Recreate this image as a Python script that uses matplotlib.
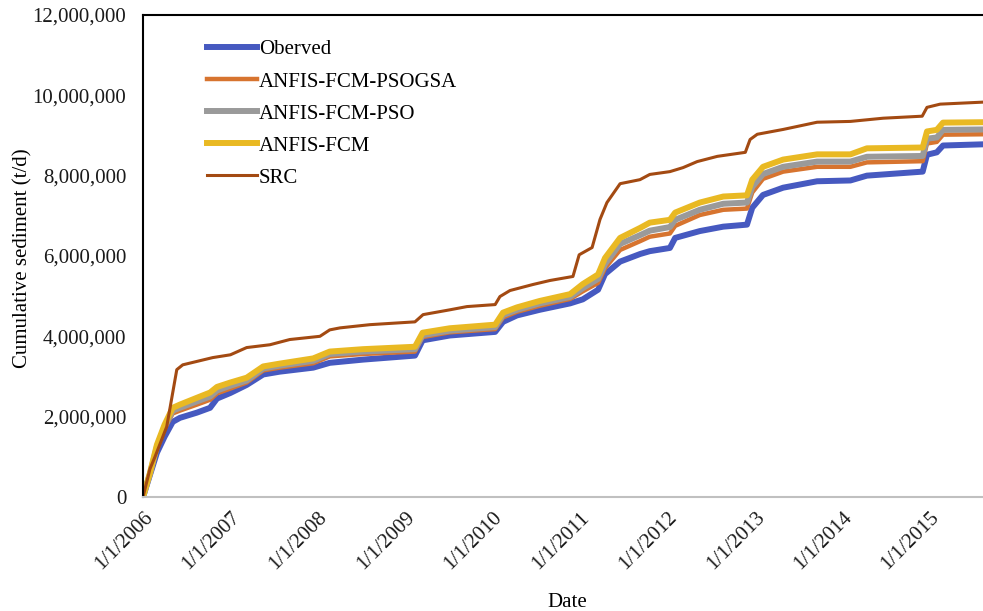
import pandas as pd
import matplotlib
matplotlib.use("Agg")
import matplotlib.pyplot as plt
import matplotlib.dates as mdates
from matplotlib.ticker import FuncFormatter

# dates shared by the four model-type series
model_dates = pd.to_datetime([
    "2006-01-01", "2006-01-30", "2006-02-28", "2006-04-01", "2006-05-05", "2006-06-04",
    "2006-08-14", "2006-10-08", "2006-11-06", "2007-01-01", "2007-03-10", "2007-05-18",
    "2007-07-26", "2007-12-13", "2008-02-20", "2008-07-08", "2009-02-10", "2009-03-14",
    "2009-07-05", "2010-01-11", "2010-02-13", "2010-04-12", "2010-07-16", "2010-11-20",
    "2011-01-12", "2011-03-17", "2011-04-15", "2011-06-17", "2011-09-09", "2011-10-19",
    "2012-01-11", "2012-02-02", "2012-05-15", "2012-08-21", "2012-11-28", "2012-12-20",
    "2013-02-03", "2013-04-28", "2013-09-17", "2014-02-03", "2014-04-13", "2014-12-02",
    "2014-12-20", "2015-01-30", "2015-02-25", "2015-08-11",
])

# values in million t/d
observed = [0, 0.55, 1.1, 1.5, 1.87, 1.97, 2.1, 2.22, 2.45, 2.59, 2.79, 3.05,
            3.12, 3.22, 3.34, 3.42, 3.52, 3.9, 4.02, 4.11, 4.36, 4.52, 4.66, 4.82,
            4.92, 5.16, 5.55, 5.86, 6.05, 6.12, 6.2, 6.45, 6.62, 6.73, 6.78, 7.2,
            7.52, 7.7, 7.86, 7.88, 8.0, 8.1, 8.52, 8.58, 8.75, 8.78]
psogsa = [0, 0.56, 1.2, 1.7, 2.08, 2.15, 2.3, 2.42, 2.58, 2.7, 2.85, 3.15,
          3.22, 3.33, 3.5, 3.56, 3.62, 3.98, 4.1, 4.18, 4.47, 4.61, 4.76, 4.93,
          5.12, 5.33, 5.7, 6.15, 6.37, 6.48, 6.56, 6.75, 7.02, 7.15, 7.18, 7.58,
          7.92, 8.1, 8.22, 8.22, 8.33, 8.36, 8.8, 8.84, 9.02, 9.03]
pso = [0, 0.58, 1.25, 1.75, 2.15, 2.22, 2.38, 2.5, 2.65, 2.77, 2.9, 3.2,
       3.27, 3.39, 3.56, 3.62, 3.68, 4.03, 4.14, 4.23, 4.53, 4.66, 4.82, 4.98,
       5.2, 5.43, 5.8, 6.3, 6.52, 6.63, 6.72, 6.9, 7.15, 7.3, 7.33, 7.72,
       8.04, 8.22, 8.35, 8.35, 8.47, 8.49, 8.92, 8.95, 9.14, 9.15]
fcm = [0, 0.6, 1.3, 1.8, 2.22, 2.3, 2.47, 2.6, 2.74, 2.85, 2.97, 3.25,
       3.32, 3.45, 3.62, 3.68, 3.74, 4.09, 4.2, 4.29, 4.59, 4.72, 4.88, 5.05,
       5.3, 5.54, 5.95, 6.45, 6.7, 6.83, 6.9, 7.08, 7.33, 7.48, 7.51, 7.9,
       8.22, 8.4, 8.53, 8.53, 8.68, 8.7, 9.1, 9.14, 9.32, 9.33]

src_dates = pd.to_datetime([
    "2006-01-01", "2006-01-30", "2006-02-20", "2006-04-10", "2006-05-22", "2006-06-16",
    "2006-10-19", "2007-01-01", "2007-03-10", "2007-06-15", "2007-09-06", "2008-01-10",
    "2008-02-20", "2008-04-03", "2008-08-06", "2009-02-10", "2009-03-16", "2009-07-06",
    "2009-09-15", "2010-01-11", "2010-01-31", "2010-03-14", "2010-06-18", "2010-08-28",
    "2010-12-02", "2010-12-28", "2011-02-20", "2011-03-25", "2011-04-23", "2011-06-17",
    "2011-09-08", "2011-10-19", "2012-01-11", "2012-03-06", "2012-05-04", "2012-07-27",
    "2012-11-21", "2012-12-11", "2013-01-10", "2013-04-28", "2013-09-17", "2014-02-03",
    "2014-06-20", "2014-11-30", "2014-12-20", "2015-02-13", "2015-08-11",
])
src = [0, 0.7, 1.0, 1.75, 3.17, 3.29, 3.47, 3.54, 3.72, 3.79, 3.92, 4.0,
       4.16, 4.21, 4.29, 4.36, 4.54, 4.66, 4.74, 4.79, 4.99, 5.14, 5.29, 5.39,
       5.49, 6.03, 6.21, 6.91, 7.33, 7.8, 7.9, 8.03, 8.1, 8.2, 8.35, 8.48,
       8.58, 8.9, 9.03, 9.15, 9.33, 9.35, 9.43, 9.48, 9.7, 9.78, 9.83]

plt.rcParams['font.family'] = ['Liberation Serif', 'DejaVu Serif']

fig = plt.figure(figsize=(9.83, 6.11), dpi=100)
ax = fig.add_axes([0.1455, 0.1866, 0.8545, 0.7889])

M = 1e6
ax.plot(model_dates, [v * M for v in observed], color='#4659c0', lw=4.3, label='Oberved')
ax.plot(model_dates, [v * M for v in psogsa], color='#d7742f', lw=3.2, label='ANFIS-FCM-PSOGSA')
ax.plot(model_dates, [v * M for v in pso], color='#9a9a9a', lw=4.3, label='ANFIS-FCM-PSO')
ax.plot(model_dates, [v * M for v in fcm], color='#e9b923', lw=4.3, label='ANFIS-FCM')
ax.plot(src_dates, [v * M for v in src], color='#a34a12', lw=2.2, label='SRC')

ax.set_xlim(pd.Timestamp("2006-01-01"), pd.Timestamp("2015-08-11"))
ax.set_ylim(0, 12e6)
ax.set_yticks([0, 2e6, 4e6, 6e6, 8e6, 10e6, 12e6])
ax.yaxis.set_major_formatter(FuncFormatter(lambda v, p: f"{v:,.0f}"))
ax.xaxis.set_major_locator(mdates.YearLocator())
ax.xaxis.set_major_formatter(FuncFormatter(
    lambda v, p: "{d.month}/{d.day}/{d.year}".format(d=mdates.num2date(v))))
plt.setp(ax.get_xticklabels(), rotation=45, ha='right', rotation_mode='anchor')
ax.tick_params(axis='both', length=0, labelsize=15, colors='#1a1a1a')
ax.tick_params(axis='x', pad=8)
ax.tick_params(axis='y', pad=12)

for s in ['left', 'top']:
    ax.spines[s].set_color('black')
    ax.spines[s].set_linewidth(1.5)
ax.spines['bottom'].set_color('#c0c0c0')
ax.spines['bottom'].set_linewidth(1.5)
ax.spines['right'].set_visible(False)

ax.set_xlabel("Date", fontsize=15)
ax.set_ylabel("Cumulative sediment (t/d)", fontsize=15)
ax.xaxis.set_label_coords(0.505, -0.2)
ax.yaxis.set_label_coords(-0.132, 0.495)

ax.legend(loc='upper left', bbox_to_anchor=(0.0635, 0.97), frameon=False, fontsize=15,
          handlelength=2.4, handletextpad=0.1, labelspacing=0.6, borderpad=0)

fig.savefig("out.png", dpi=100)
